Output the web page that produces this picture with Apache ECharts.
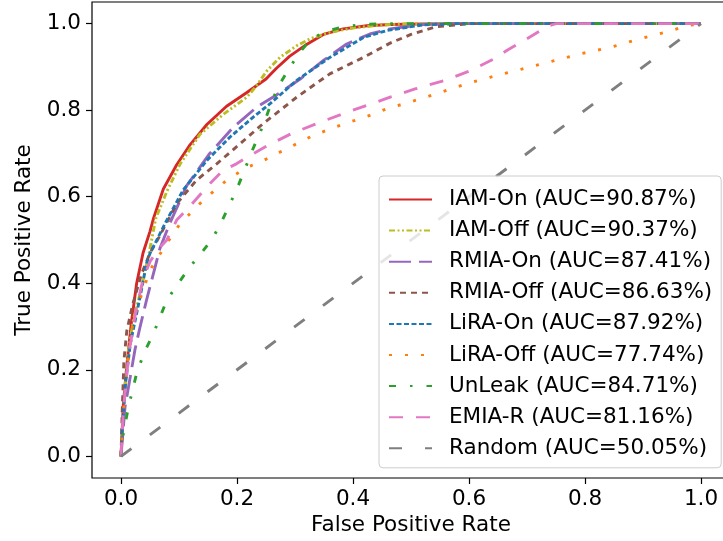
<!DOCTYPE html>
<html>
<head>
<meta charset="utf-8">
<script src="https://cdn.jsdelivr.net/npm/echarts@6/dist/echarts.min.js"></script>
<style>
html,body{margin:0;padding:0;background:#fff;}
#chart{width:723px;height:541px;}
</style>
</head>
<body>
<div id="chart"></div>
<script>
// ---- data (FPR, TPR pairs) ----
const iamOn = [[0,0],[0.001,0.03],[0.004,0.12],[0.01,0.21],[0.018,0.31],[0.027,0.40],[0.038,0.47],[0.05,0.52],[0.056,0.55],[0.073,0.618],[0.096,0.674],[0.119,0.72],[0.148,0.767],[0.182,0.809],[0.217,0.841],[0.25,0.872],[0.268,0.897],[0.291,0.925],[0.32,0.952],[0.349,0.975],[0.383,0.988],[0.424,0.995],[0.464,0.998],[0.55,1.0],[1,1]];
const iamOff = [[0,0],[0.003,0.08],[0.007,0.16],[0.013,0.246],[0.022,0.32],[0.033,0.376],[0.047,0.46],[0.06,0.55],[0.079,0.612],[0.102,0.676],[0.136,0.744],[0.176,0.79],[0.217,0.83],[0.234,0.857],[0.251,0.89],[0.274,0.922],[0.303,0.949],[0.326,0.965],[0.36,0.98],[0.4,0.99],[0.45,0.997],[0.5,1.0],[1,1]];
const rmiaOn = [[0,0],[0.003,0.05],[0.007,0.115],[0.016,0.184],[0.024,0.246],[0.033,0.30],[0.044,0.361],[0.056,0.423],[0.067,0.48],[0.084,0.538],[0.113,0.625],[0.153,0.70],[0.194,0.761],[0.234,0.807],[0.268,0.835],[0.309,0.872],[0.349,0.915],[0.389,0.953],[0.429,0.976],[0.464,0.988],[0.52,0.998],[0.58,1],[1,1]];
const rmiaOff = [[0,0],[0.002,0.1],[0.005,0.22],[0.01,0.29],[0.02,0.35],[0.035,0.42],[0.05,0.47],[0.065,0.505],[0.096,0.584],[0.13,0.638],[0.165,0.676],[0.205,0.722],[0.245,0.769],[0.303,0.83],[0.36,0.884],[0.418,0.922],[0.464,0.955],[0.5,0.975],[0.544,0.993],[0.6,1],[1,1]];
const liraOn = [[0,0],[0.003,0.08],[0.008,0.17],[0.016,0.26],[0.033,0.369],[0.044,0.446],[0.05,0.469],[0.079,0.546],[0.107,0.615],[0.148,0.684],[0.188,0.738],[0.228,0.784],[0.257,0.815],[0.303,0.869],[0.36,0.922],[0.418,0.968],[0.458,0.984],[0.52,0.997],[0.58,1],[1,1]];
const liraOff = [[0,0],[0.003,0.08],[0.007,0.15],[0.013,0.23],[0.021,0.315],[0.038,0.384],[0.05,0.43],[0.064,0.461],[0.079,0.492],[0.102,0.538],[0.142,0.592],[0.182,0.638],[0.217,0.668],[0.24,0.68],[0.28,0.707],[0.332,0.742],[0.378,0.765],[0.429,0.788],[0.458,0.803],[0.516,0.826],[0.544,0.838],[0.596,0.861],[0.636,0.876],[0.691,0.895],[0.737,0.911],[0.791,0.93],[0.843,0.945],[0.895,0.965],[0.949,0.984],[0.975,0.995],[1,1]];
const unLeak = [[0,0],[0.004,0.053],[0.013,0.115],[0.027,0.192],[0.04,0.24],[0.056,0.284],[0.079,0.361],[0.099,0.40],[0.119,0.438],[0.142,0.476],[0.156,0.50],[0.171,0.535],[0.188,0.584],[0.199,0.615],[0.211,0.655],[0.228,0.712],[0.245,0.765],[0.263,0.83],[0.274,0.861],[0.291,0.899],[0.309,0.935],[0.326,0.962],[0.349,0.98],[0.383,0.993],[0.418,0.998],[0.45,1],[1,1]];
const emiaR = [[0,0],[0.003,0.08],[0.008,0.17],[0.015,0.25],[0.025,0.33],[0.038,0.41],[0.05,0.45],[0.065,0.48],[0.079,0.50],[0.096,0.546],[0.12,0.58],[0.153,0.63],[0.176,0.661],[0.199,0.676],[0.222,0.695],[0.254,0.719],[0.294,0.746],[0.343,0.772],[0.40,0.80],[0.464,0.83],[0.507,0.849],[0.556,0.868],[0.602,0.891],[0.642,0.918],[0.665,0.938],[0.70,0.965],[0.737,0.995],[0.75,1],[1,1]];
const randomLine = [[0,0],[1,1]];

const seriesNames = ['IAM-On (AUC=90.87%)','IAM-Off (AUC=90.37%)','RMIA-On (AUC=87.41%)','RMIA-Off (AUC=86.63%)','LiRA-On (AUC=87.92%)','LiRA-Off (AUC=77.74%)','UnLeak (AUC=84.71%)','EMIA-R (AUC=81.16%)','Random (AUC=50.05%)'];
const seriesData = [iamOn, iamOff, rmiaOn, rmiaOff, liraOn, liraOff, unLeak, emiaR, randomLine];
const tickValues = [0, 0.2, 0.4, 0.6, 0.8, 1.0];

// ---- styles ----
const colors = ['#d62728','#bcbd22','#9467bd','#8c564b','#1f77b4','#ff7f0e','#2ca02c','#e377c2','#7f7f7f'];
const dashes = ['solid',[6,2.5,2,2.5,2,2.5],[22,8],[6,5],[5,2.5],[3,13],[7,14,2.5,14],[14,13],[13,23]];
const FONT = 'DejaVu Sans';
const FS = 21.5;

const chart = echarts.init(document.getElementById('chart'), null, {renderer:'canvas'});
chart.setOption({
  animation: false,
  backgroundColor: '#ffffff',
  textStyle: {fontFamily: FONT},
  grid: {left: 92, right: -7, top: 2, bottom: 63, show: true, borderColor: '#000', borderWidth: 1.2, backgroundColor: 'transparent', containLabel: false, outerBoundsMode: 'none'},
  xAxis: {
    type: 'value', min: -0.05, max: 1.05,
    name: 'False Positive Rate', nameLocation: 'middle', nameGap: 34,
    nameTextStyle: {fontSize: FS, color: '#000', fontFamily: FONT},
    axisLine: {show: false, onZero: false},
    splitLine: {show: false},
    axisTick: {show: true, inside: false, length: 6, customValues: tickValues, lineStyle: {color: '#000', width: 1.2}},
    axisLabel: {customValues: tickValues, margin: 10, fontSize: FS, color: '#000', fontFamily: FONT, formatter: v => v.toFixed(1)}
  },
  yAxis: {
    type: 'value', min: -0.05, max: 1.05,
    name: 'True Positive Rate', nameLocation: 'middle', nameGap: 57, nameRotate: 90,
    nameTextStyle: {fontSize: FS, color: '#000', fontFamily: FONT},
    axisLine: {show: false, onZero: false},
    splitLine: {show: false},
    axisTick: {show: true, inside: false, length: 6, customValues: tickValues, lineStyle: {color: '#000', width: 1.2}},
    axisLabel: {customValues: tickValues, margin: 11, fontSize: FS, color: '#000', fontFamily: FONT, formatter: v => v.toFixed(1)}
  },
  legend: {
    orient: 'vertical', left: 379, top: 176,
    padding: [12.5, 9, 8.5, 9],
    itemWidth: 43, itemHeight: 14, itemGap: 9.1,
    backgroundColor: 'rgba(255,255,255,0.8)',
    borderColor: '#cccccc', borderWidth: 1, borderRadius: 4,
    itemStyle: {color: 'rgba(0,0,0,0)', borderColor: 'rgba(0,0,0,0)', borderWidth: 0},
    textStyle: {fontSize: FS, lineHeight: 21, color: '#000', fontFamily: FONT, padding: [0, 0, 0, 12]},
    data: seriesNames
  },
  series: seriesNames.map((n, i) => ({
    name: n, type: 'line', data: seriesData[i],
    symbol: 'none', showSymbol: false, smooth: false,
    color: colors[i],
    lineStyle: {color: colors[i], width: 2.9, type: dashes[i], cap: 'butt'},
    z: 2 + i * 0.01
  }))
});
</script>
</body>
</html>
